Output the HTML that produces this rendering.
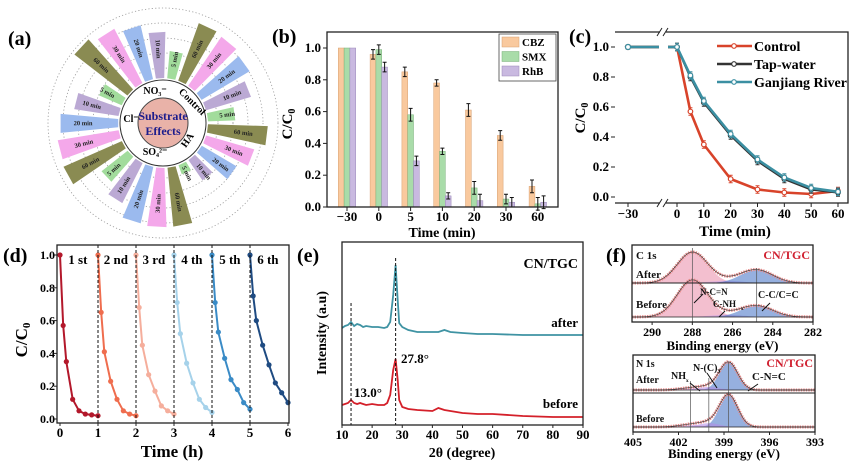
<!DOCTYPE html>
<html><head><meta charset="utf-8"><style>
html,body{margin:0;padding:0;background:#fff;}
svg{display:block;font-family:"Liberation Serif",serif;font-weight:bold;}
</style></head><body>
<svg id="fig" width="865" height="465" viewBox="0 0 865 465" xmlns="http://www.w3.org/2000/svg"></svg>
<script>
// ---------- DATA ----------
// (a) radial chart: removal (%) per group, bars ordered 60,30,20,10,5 min
const aGroups = ['Control','HA','SO4','Cl','NO3'];
const aTimes = ['60 min','30 min','20 min','10 min','5 min'];
const aControl = [94,91,86,72,42];
const aHA = [92,77,62,38,15];
const aSO4 = [91,91,89,69,51];
const aCl = [98,95,89,69,38];
const aNO3 = [103,94,85,71,42];
// (b) bar chart
const bCats = ['−30','0','5','10','20','30','60'];
const bCBZ = [1,0.96,0.85,0.78,0.61,0.45,0.13];
const bSMX = [1,0.99,0.58,0.35,0.12,0.05,0.02];
const bRhB = [1,0.88,0.29,0.07,0.04,0.03,0.03];
const bErrCBZ = [0,0.03,0.03,0.02,0.04,0.03,0.04];
const bErrSMX = [0,0.03,0.04,0.02,0.04,0.03,0.04];
const bErrRhB = [0,0.03,0.03,0.02,0.04,0.03,0.04];
const bYTicks = [0,0.2,0.4,0.6,0.8,1.0];
// (c) line chart
const cTimes = [0,5,10,20,30,40,50,60];
const cControl = [1,0.57,0.35,0.12,0.05,0.03,0.02,0.04];
const cTap = [1,0.80,0.63,0.41,0.24,0.12,0.05,0.03];
const cRiver = [1,0.81,0.64,0.42,0.25,0.13,0.06,0.035];
const cXTicks = [0,10,20,30,40,50,60];
// (d) cycles
const dOffsets = [0,0.083,0.167,0.333,0.5,0.667,0.833,1];
const dCycles = [
 [1,0.57,0.35,0.12,0.05,0.03,0.025,0.02],
 [1,0.65,0.41,0.23,0.12,0.05,0.03,0.02],
 [1,0.68,0.45,0.27,0.17,0.08,0.05,0.03],
 [1,0.71,0.52,0.34,0.22,0.12,0.07,0.04],
 [1,0.71,0.53,0.37,0.24,0.18,0.10,0.06],
 [1,0.75,0.60,0.45,0.33,0.22,0.16,0.10]];
const dLabels = ['1 st','2 nd','3 rd','4 th','5 th','6 th'];
// (e) XRD
const eTheta = [10,11,12,13,14,15,16,17,18,20,22,24,25,26,27,27.8,28.5,29,30,32,35,40,42,44,46,50,55,60,70,80,90];
const eBefore = [20,21,22,25,22,21,22,21,20,21,20,20,22,30,55,66,45,25,18,16,15,14,17,15,14,12,11,11,9,8,8];
const eAfter = [97,99,100,103,99,101,100,98,99,98,98,97,98,103,130,160,125,102,98,95,93,93,93,95,93,92,91,91,90,90,90];
const eXTicks = [10,20,30,40,50,60,70,80,90];
// (f) XPS fitted peaks: centers, amplitudes, widths
const fCCenters = [288.0,286.3,284.8];
const fCAfterAmp = [40,3,17];
const fCBeforeAmp = [48,3,14.5];
const fCWidth = [0.75,0.8,0.8];
const fNCenters = [398.7,400.0,401.2];
const fNAfterAmp = [36,4,2.5];
const fNBeforeAmp = [41.5,5,3];
const fNWidth = [0.6,0.7,0.8];
const fCXTicks = [290,288,286,284,282];
const fNXTicks = [405,402,399,396,393];

// ---------- HELPERS ----------
const NS='http://www.w3.org/2000/svg';
const svg=document.getElementById('fig');
function mk(tag,attrs,parent){const e=document.createElementNS(NS,tag);for(const k in attrs)e.setAttribute(k,attrs[k]);(parent||svg).appendChild(e);return e;}
function txt(s,x,y,size,anchor,parent,extra){const t=mk('text',Object.assign({x:x,y:y,'font-size':size,'text-anchor':anchor||'middle'},extra||{}),parent);t.textContent=s;return t;}
function lin(d0,d1,r0,r1){return v=>r0+(v-d0)*(r1-r0)/(d1-d0);}
function gauss(x,c,a,w){return a*Math.exp(-0.5*((x-c)/w)**2);}

// ---------- PANEL LABELS ----------
[['(a)',8,45],['(b)',272,43],['(c)',569,43],['(d)',3,262],['(e)',297,262],['(f)',606,262]].forEach(p=>{
 const t=txt(p[0],p[1],p[2],20,'start');
 
 
});

// ---------- (a) ----------
(function(){
 const g=mk('g',{});
 
 
 const cx=163,cy=123;
 [55,70,85,100,115].forEach(r=>{const c=mk('circle',{cx:cx,cy:cy,r:r,fill:'none',stroke:'#999','stroke-width':0.8,'stroke-dasharray':'1.2 2.2'},g);
  
  });
 const rS=lin(0,100,45,110);
 const cols=['#8a8b52','#f4a8ea','#9bbaee','#bba9d4','#a2dc9c'];
 const all=[aControl,aHA,aSO4,aCl,aNO3];
 const half=5.3*Math.PI/180;
 all.forEach((vals,gi)=>{vals.forEach((v,bi)=>{
  const ang=(25+(gi*5+bi)*14.4)*Math.PI/180;
  const r0=45,r1=rS(v);
  const p=(r,a)=>(cx+r*Math.sin(a)).toFixed(1)+','+(cy-r*Math.cos(a)).toFixed(1);
  const w=mk('polygon',{points:[p(r0,ang-half),p(r1,ang-half),p(r1,ang+half),p(r0,ang+half)].join(' '),fill:cols[bi]},g);
  
  
  const rm=(r0+r1)/2+6,deg=(25+(gi*5+bi)*14.4)%360;
  const tx=cx+rm*Math.sin(ang),ty=cy-rm*Math.cos(ang);
  const rot=deg<180?deg-90:deg+90;
  const t=txt(aTimes[bi],tx,ty+2,6.5,'middle',g,{transform:`rotate(${rot} ${tx} ${ty})`,fill:'#222'});
  
  
 });});
 const ring=mk('circle',{cx:cx,cy:cy,r:43,fill:'#fff',stroke:'#333','stroke-width':1},g);
 
 
 const core=mk('circle',{cx:cx,cy:cy,r:25,fill:'#e9b2a8',stroke:'#444','stroke-width':1},g);
 
 
 const t1=txt('Substrate',cx,cy-3,12,'middle',g,{fill:'#1c1c8c'});
 
 
 const t2=txt('Effects',cx,cy+12,12,'middle',g,{fill:'#1c1c8c'});
 
 
 const gl=[['NO₃⁻',155,94,0],['Control',190,104,45],['HA',190,142,-55],['SO₄²⁻',155,155,0],['Cl⁻',131,122,0]];
 gl.forEach(l=>{const t=txt(l[0],l[1],l[2],10,'middle',g,{transform:`rotate(${l[3]} ${l[1]} ${l[2]})`});
  
  });
})();

// ---------- (b) ----------
(function(){
 const g=mk('g',{});
 
 
 const L=327,R=558,T=32,B=207;
 const y=lin(0,1,207,48);
 const x=i=>347+i*31.8;
 const series=[[bCBZ,bErrCBZ,'#f9c99e','#d8a070','CBZ'],[bSMX,bErrSMX,'#a9dca9','#78b078','SMX'],[bRhB,bErrRhB,'#c9b9e0','#9a88b8','RhB']];
 series.forEach((s,si)=>{s[0].forEach((v,i)=>{
  const cx=x(i)+(si-1)*5.8;
  const r=mk('rect',{x:cx-2.9,y:y(v),width:5.8,height:B-y(v),fill:s[2],stroke:s[3],'stroke-width':0.5},g);
  
  
  if(s[1][i]>0){const e=mk('path',{d:`M${cx-2},${y(v+s[1][i])}h4M${cx},${y(v+s[1][i])}V${y(v-s[1][i])}M${cx-2},${y(v-s[1][i])}h4`,stroke:'#111','stroke-width':1,fill:'none'},g);
   
   }
 });});
 const box=mk('rect',{x:L,y:T,width:R-L,height:B-T,fill:'none',stroke:'#222','stroke-width':1.3},g);
 
 
 bYTicks.forEach(v=>{mk('line',{x1:L,x2:L-4,y1:y(v),y2:y(v),stroke:'#222'},g);
  const t=txt(v.toFixed(1),L-6,y(v)+4,13,'end',g);
  
  });
 bCats.forEach((c,i)=>{mk('line',{x1:x(i),x2:x(i),y1:B,y2:B+4,stroke:'#222'},g);
  const t=txt(c,x(i),221,13,'middle',g);
  
  });
 const yt=txt('C/C',0,0,15,'middle',g,{transform:'translate(292,124) rotate(-90)'});
 const sub=mk('tspan',{'font-size':10,dy:3},yt);sub.textContent='0';
 
 
 const xt=txt('Time (min)',442,237,14,'middle',g);
 
 
 const lg=mk('rect',{x:499,y:34,width:57,height:47,fill:'#fff',stroke:'#444','stroke-width':0.8},g);
 
 
 series.forEach((s,i)=>{const ly=37+i*14.5;
  const sw=mk('rect',{x:502,y:ly,width:17,height:10,fill:s[2],stroke:s[3],'stroke-width':0.5},g);
  
  
  const t=txt(s[4],522,ly+9,11,'start',g);
  
  });
})();

// ---------- (c) ----------
(function(){
 const g=mk('g',{});
 
 
 const L=615,R=848,T=32,B=203;
 const y=lin(0,1,197,47);
 const x=lin(0,60,677,838);
 const xPre=628,brk=663;
 const ser=[[cControl,'#d8432a','Control'],[cTap,'#333333','Tap-water'],[cRiver,'#3b8fa2','Ganjiang River']];
 ser.forEach((s,si)=>{
  const d='M'+s[0].map((v,i)=>x(cTimes[i]).toFixed(1)+','+y(v).toFixed(1)).join('L');
  const p=mk('path',{d:d,fill:'none',stroke:s[1],'stroke-width':si==1?2.2:2.6},g);
  
  
  mk('path',{d:`M${xPre},${y(s[0][0])}H${brk-4}M${brk+5},${y(s[0][0])}H${x(0)}`,stroke:s[1],'stroke-width':2.4,fill:'none'},g);
  const pre=mk('circle',{cx:xPre,cy:y(s[0][0]),r:2.5,fill:'#fff',stroke:s[1],'stroke-width':1.2},g);
  
  
  s[0].forEach((v,i)=>{
   mk('path',{d:`M${x(cTimes[i])-2},${y(v+0.025)}h4M${x(cTimes[i])},${y(v+0.025)}V${y(v-0.025)}M${x(cTimes[i])-2},${y(v-0.025)}h4`,stroke:s[1],'stroke-width':1},g);
   const c=mk('circle',{cx:x(cTimes[i]),cy:y(v),r:2.3,fill:'#fff',stroke:s[1],'stroke-width':1.2},g);
   
   
  });
 });
 const box=mk('path',{d:`M${L},${T}H${brk-3}M${brk+3},${T}H${R}V${B}H${brk+3}M${brk-3},${B}H${L}Z`,fill:'none',stroke:'#222','stroke-width':1.3},g);
 
 
 [T,B].forEach(yy=>{mk('path',{d:`M${brk-6},${yy+4}l5,-8M${brk},${yy+4}l5,-8`,stroke:'#222','stroke-width':1},g);});
 bYTicks.forEach(v=>{mk('line',{x1:L,x2:L-4,y1:y(v),y2:y(v),stroke:'#222'},g);
  const t=txt(v.toFixed(1),L-6,y(v)+4,13,'end',g);
  
  });
 const t0=txt('−30',xPre,218,13,'middle',g);
 
 
 mk('line',{x1:xPre,x2:xPre,y1:B,y2:B+4,stroke:'#222'},g);
 cXTicks.forEach(v=>{mk('line',{x1:x(v),x2:x(v),y1:B,y2:B+4,stroke:'#222'},g);
  const t=txt(String(v),x(v),218,13,'middle',g);
  
  });
 const yt=txt('C/C',0,0,15,'middle',g,{transform:'translate(585,118) rotate(-90)'});
 const sub=mk('tspan',{'font-size':10,dy:3},yt);sub.textContent='0';
 
 
 const xt=txt('Time (min)',735,236,15,'middle',g);
 
 
 ser.forEach((s,i)=>{const ly=46+i*18;
  mk('line',{x1:717,x2:752,y1:ly,y2:ly,stroke:s[1],'stroke-width':2.5},g);
  mk('circle',{cx:734,cy:ly,r:2.3,fill:'#fff',stroke:s[1],'stroke-width':1.2},g);
  const t=txt(s[2],754,ly+5,14,'start',g);
  
  });
})();

// ---------- (d) ----------
(function(){
 const g=mk('g',{});
 
 
 const L=57,R=289,T=245,B=423;
 const y=lin(0,1,419,255);
 const x=lin(0,6,60,288);
 const cols=['#b3182b','#ef6d4e','#f5ae9c','#a6d2ea','#3a8bc6','#1f4b82'];
 dCycles.forEach((cyc,ci)=>{
  const d='M'+cyc.map((v,i)=>x(ci+dOffsets[i]).toFixed(1)+','+y(v).toFixed(1)).join('L');
  const p=mk('path',{d:d,fill:'none',stroke:cols[ci],'stroke-width':2},g);
  
  
  cyc.forEach((v,i)=>{const c=mk('circle',{cx:x(ci+dOffsets[i]),cy:y(v),r:2.6,fill:cols[ci]},g);
   
   });
  if(ci>0){const dl=mk('line',{x1:x(ci),x2:x(ci),y1:T,y2:B,stroke:'#111','stroke-dasharray':'3 2','stroke-width':1},g);
   
   }
  const t=txt(dLabels[ci],x(ci+0.47),264,13,'middle',g);
  
  
 });
 const box=mk('rect',{x:L,y:T,width:R-L,height:B-T,fill:'none',stroke:'#222','stroke-width':1.3},g);
 
 
 bYTicks.forEach(v=>{mk('line',{x1:L,x2:L-3,y1:y(v),y2:y(v),stroke:'#222'},g);
  const t=txt(v.toFixed(1),L-2,y(v)+4,12,'end',g);
  
  });
 [0,1,2,3,4,5,6].forEach(v=>{mk('line',{x1:x(v),x2:x(v),y1:B,y2:B+3,stroke:'#222'},g);
  const t=txt(String(v),x(v),437,13,'middle',g);
  
  });
 const yt=txt('C/C',0,0,17,'middle',g,{transform:'translate(27,340) rotate(-90)'});
 const sub=mk('tspan',{'font-size':11,dy:3},yt);sub.textContent='0';
 
 
 const xt=txt('Time (h)',172,457,17,'middle',g);
 
 
})();

// ---------- (e) ----------
(function(){
 const g=mk('g',{});
 
 
 const L=342,R=583,T=242,B=425;
 const x=lin(10,90,L,R);
 const y=lin(0,183,B,T);
 [[eAfter,'#3f93a3','after'],[eBefore,'#d4202a','before']].forEach(s=>{
  const d='M'+s[0].map((v,i)=>x(eTheta[i]).toFixed(1)+','+y(v).toFixed(1)).join('L');
  const p=mk('path',{d:d,fill:'none',stroke:s[1],'stroke-width':1.8},g);
  
  
 });
 const d1=mk('line',{x1:x(13),x2:x(13),y1:303,y2:B,stroke:'#111','stroke-dasharray':'3 2'},g);
 
 
 const d2=mk('line',{x1:x(27.8),x2:x(27.8),y1:258,y2:B,stroke:'#111','stroke-dasharray':'3 2'},g);
 
 
 const box=mk('rect',{x:L,y:T,width:R-L,height:B-T,fill:'none',stroke:'#222','stroke-width':1.3},g);
 
 
 eXTicks.forEach(v=>{mk('line',{x1:x(v),x2:x(v),y1:B,y2:B+3,stroke:'#222'},g);
  const t=txt(String(v),x(v),439,13,'middle',g);
  
  });
 [['CN/TGC',578,268,14,'end'],['after',578,327,13,'end'],['before',578,408,13,'end'],['27.8°',401,363,13,'start'],['13.0°',354,397,13,'start']].forEach(a=>{
  const t=txt(a[0],a[1],a[2],a[3],a[4],g);
  
  });
 const yt=txt('Intensity (a.u)',0,0,14,'middle',g,{transform:'translate(326,333) rotate(-90)'});
 
 
 const xt=txt('2θ (degree)',462,457,14,'middle',g);
 
 
})();

// ---------- (f) ----------
function xps(name,L,R,T,B,mid,e0,e1,ticks,centers,ampA,ampB,widths,baseA,baseB,cols,tickY,titleY,labels){
 const g=mk('g',{});
 
 
 const x=lin(e0,e1,L,R);
 const y=lin(0,100,B,T);
 const N=120;
 [[ampA,baseA,'after'],[ampB,baseB,'before']].forEach(s=>{
  centers.forEach((c,ci)=>{let d=`M${x(e0)},${y(s[1])}`;
   for(let k=0;k<=N;k++){const e=e0+(e1-e0)*k/N;d+=`L${x(e).toFixed(1)},${y(s[1]+gauss(e,c,s[0][ci],widths[ci])).toFixed(1)}`;}
   d+=`L${x(e1)},${y(s[1])}Z`;
   const p=mk('path',{d:d,fill:cols[ci],'fill-opacity':0.55},g);
   
   });
  let d='';
  for(let k=0;k<=N;k++){const e=e0+(e1-e0)*k/N;let v=s[1];centers.forEach((c,ci)=>v+=gauss(e,c,s[0][ci],widths[ci]));d+=(k?'L':'M')+x(e).toFixed(1)+','+y(v).toFixed(1);}
  const env=mk('path',{d:d,fill:'none',stroke:'#e58a8a','stroke-width':3,'stroke-dasharray':'1.5 1'},g);
  
  
  mk('path',{d:d,fill:'none',stroke:'#333','stroke-width':0.6},g);
  mk('line',{x1:L,x2:R,y1:y(s[1]),y2:y(s[1]),stroke:'#222','stroke-width':0.8},g);
 });
 centers.forEach((c,ci)=>{if(labels.vlines.includes(ci)){const l=mk('line',{x1:x(c),x2:x(c),y1:labels.vtop[ci],y2:B,stroke:'#555','stroke-width':0.7},g);
  
  }});
 const sep=mk('line',{x1:L,x2:R,y1:mid,y2:mid,stroke:'#222','stroke-width':1},g);
 
 
 const box=mk('rect',{x:L,y:T,width:R-L,height:B-T,fill:'none',stroke:'#222','stroke-width':1.3},g);
 
 
 ticks.forEach(v=>{mk('line',{x1:x(v),x2:x(v),y1:B,y2:B+3,stroke:'#222'},g);
  const t=txt(String(v),x(v),tickY,12,'middle',g);
  
  });
 const xt=txt('Binding energy (eV)',(L+R)/2,titleY,13,'middle',g);
 
 
 labels.text.forEach(a=>{const t=txt(a[0],a[1],a[2],a[3],a[4],g,{fill:a[5]||'#111'});
  
  });
 labels.arrows.forEach(a=>{const p=mk('path',{d:a,stroke:'#111','stroke-width':1,fill:'none'},g);
  
  });
}
xps('xps-c1s',632,813,245,322,283,291,282,fCXTicks,fCCenters,fCAfterAmp,fCBeforeAmp,fCWidth,50.6,6.5,['#e98aa8','#c8a0e8','#3f6fc4'],336,350,
 {vlines:[0,2],vtop:[248,0,268],text:[['C 1s',636,259,11,'start'],['CN/TGC',810,259,12,'end','#d02030'],['After',636,278,11,'start'],['Before',636,308,11,'start'],['N-C=N',700,295,9,'start'],['C-NH',713,307,9,'start'],['ₓ',741,309,9,'start'],['C-C/C=C',758,298,10,'start']],
  arrows:['M694,303l9,-9','M725,311l-6,6','M762,311l8,-8']});
xps('xps-n1s',633,815,355,432,393,405,393,fNXTicks,fNCenters,fNAfterAmp,fNBeforeAmp,fNWidth,54.5,6.5,['#3f6fc4','#b58ae6','#c8a0e8'],446,458,
 {vlines:[0,1,2],vtop:[362,378,381],text:[['N 1s',636,367,10,'start'],['CN/TGC',813,367,12,'end','#d02030'],['After',636,383,10,'start'],['Before',636,422,10,'start'],['NH',671,379,10,'start'],['ₓ',686,381,9,'start'],['N-(C)₃',693,371,10,'start'],['C-N=C',752,380,11,'start']],
  arrows:['M690,383l10,8','M707,373l10,15','M758,384l-10,7']});
</script>
</body></html>
